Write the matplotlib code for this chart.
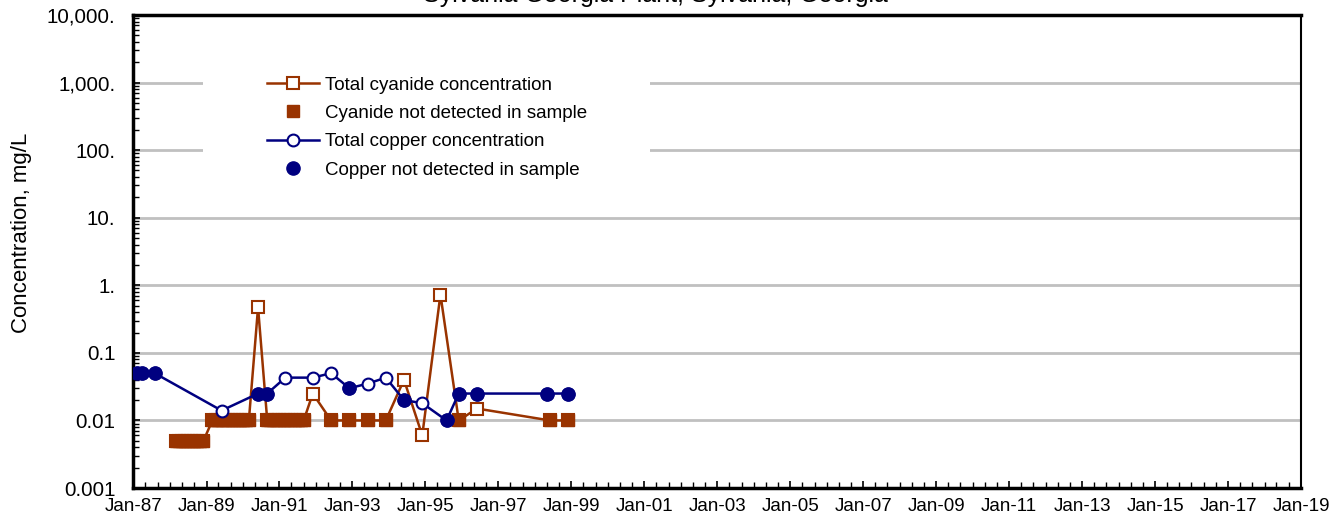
import numpy as np
import pandas as pd
import matplotlib
matplotlib.use("Agg")
import matplotlib.pyplot as plt
import matplotlib.dates as mdates
from matplotlib.ticker import FixedLocator, LogLocator, NullFormatter
from matplotlib.patches import Rectangle

plt.rcParams['font.family'] = ['Liberation Sans', 'DejaVu Sans']

# cyanide samples (mg/L); nd = not detected
cn_dates = ["1988-03", "1988-04", "1988-05", "1988-06", "1988-07", "1988-08", "1988-09",
            "1988-10", "1988-11", "1988-12",
            "1989-03", "1989-04", "1989-05", "1989-06", "1989-07", "1989-08", "1989-09",
            "1989-10", "1989-11", "1989-12", "1990-01", "1990-02", "1990-03",
            "1990-06",
            "1990-09", "1990-10", "1990-11", "1990-12", "1991-01", "1991-02", "1991-03",
            "1991-04", "1991-05", "1991-06", "1991-07", "1991-08", "1991-09",
            "1991-12", "1992-06", "1992-12", "1993-06", "1993-12", "1994-06",
            "1994-12", "1995-06", "1995-12", "1996-06", "1998-06", "1998-12"]
cn_values = [0.005] * 10 + [0.01] * 13 + [0.47] + [0.01] * 13 + \
            [0.025, 0.01, 0.01, 0.01, 0.01, 0.04, 0.006, 0.73, 0.01, 0.015, 0.01, 0.01]
cn_nd = [1] * 23 + [0] + [1] * 13 + [0, 1, 1, 1, 1, 0, 0, 0, 1, 0, 1, 1]

# copper samples (mg/L)
cu_dates = ["1987-02", "1987-04", "1987-08", "1989-06", "1990-06", "1990-09", "1991-03",
            "1991-12", "1992-06", "1992-12", "1993-06", "1993-12", "1994-06", "1994-12",
            "1995-08", "1995-12", "1996-06", "1998-05", "1998-12"]
cu_values = [0.05, 0.05, 0.05, 0.014, 0.025, 0.025, 0.043, 0.043, 0.05, 0.03, 0.035,
             0.043, 0.02, 0.018, 0.01, 0.025, 0.025, 0.025, 0.025]
cu_nd = [1, 1, 1, 0, 1, 1, 0, 0, 0, 1, 0, 0, 1, 0, 1, 1, 1, 1, 1]

cn_x = pd.to_datetime(cn_dates)
cu_x = pd.to_datetime(cu_dates)
cn_v = np.array(cn_values)
cu_v = np.array(cu_values)
cn_m = np.array(cn_nd, dtype=bool)
cu_m = np.array(cu_nd, dtype=bool)

brown = "#993300"
navy = "#000080"
fs = 13.5

fig = plt.figure(figsize=(13.43, 5.23), dpi=100)
ax = fig.add_axes([0.0994, 0.0669, 0.8693, 0.9044])

ax.plot(cn_x, cn_v, color=brown, lw=1.8, marker="s", ms=8.5, mfc="white", mec=brown,
        mew=1.5, label="Total cyanide concentration", zorder=3)
ax.plot(cn_x[cn_m], cn_v[cn_m], ls="none", marker="s", ms=8.5, color=brown,
        label="Cyanide not detected in sample", zorder=4)
ax.plot(cu_x, cu_v, color=navy, lw=1.8, marker="o", ms=8.5, mfc="white", mec=navy,
        mew=1.5, label="Total copper concentration", zorder=5)
ax.plot(cu_x[cu_m], cu_v[cu_m], ls="none", marker="o", ms=9.5, color=navy,
        label="Copper not detected in sample", zorder=6)

ax.set_yscale("log")
ax.set_ylim(0.001, 10000)
yt = [0.001, 0.01, 0.1, 1, 10, 100, 1000, 10000]
ax.set_yticks(yt)
ax.set_yticklabels(["0.001", "0.01", "0.1", "1.", "10.", "100.", "1,000.", "10,000."])
ax.yaxis.set_minor_locator(LogLocator(base=10, subs=np.arange(2, 10)))
ax.yaxis.set_minor_formatter(NullFormatter())

ax.set_xlim(pd.Timestamp("1987-01-01"), pd.Timestamp("2019-01-01"))
major_x = pd.date_range("1987-01-01", "2019-01-01", freq="24MS")
ax.xaxis.set_major_locator(FixedLocator(mdates.date2num(major_x)))
ax.xaxis.set_major_formatter(mdates.DateFormatter("%b-%y"))
ax.xaxis.set_minor_locator(mdates.MonthLocator(bymonth=[1, 5, 9]))

ax.tick_params(axis="both", which="both", direction="in")
ax.tick_params(axis="x", labelsize=fs, pad=7)
ax.tick_params(axis="y", labelsize=14.8, pad=13)
ax.tick_params(axis="both", which="major", length=5, width=1.2)
ax.tick_params(axis="both", which="minor", length=4, width=1.0)

ax.grid(axis="y", which="major", color="#c0c0c0", lw=2)
ax.set_axisbelow(True)
for s in ["left", "bottom", "top"]:
    ax.spines[s].set_linewidth(2.5)
ax.spines["right"].set_linewidth(1.5)

ax.set_ylabel("Concentration, mg/L", fontsize=16, labelpad=11)
ax.yaxis.label.set_y(0.54)

# white box behind legend hides grid lines
ax.add_patch(Rectangle((0.0597, 0.62), 0.383, 0.27, transform=ax.transAxes,
                       facecolor="white", edgecolor="none", zorder=1.5))
leg = ax.legend(loc="upper left", bbox_to_anchor=(0.1143, 0.870), frameon=False,
                fontsize=fs, handlelength=2.77, handletextpad=0.32, labelspacing=0.6,
                borderpad=0, borderaxespad=0)

fig.text(0.4877, 1 - 2 / 523, "Sylvania Georgia Plant, Sylvania, Georgia",
         ha="center", va="baseline", fontsize=18)

fig.savefig("out.png", dpi=100)
